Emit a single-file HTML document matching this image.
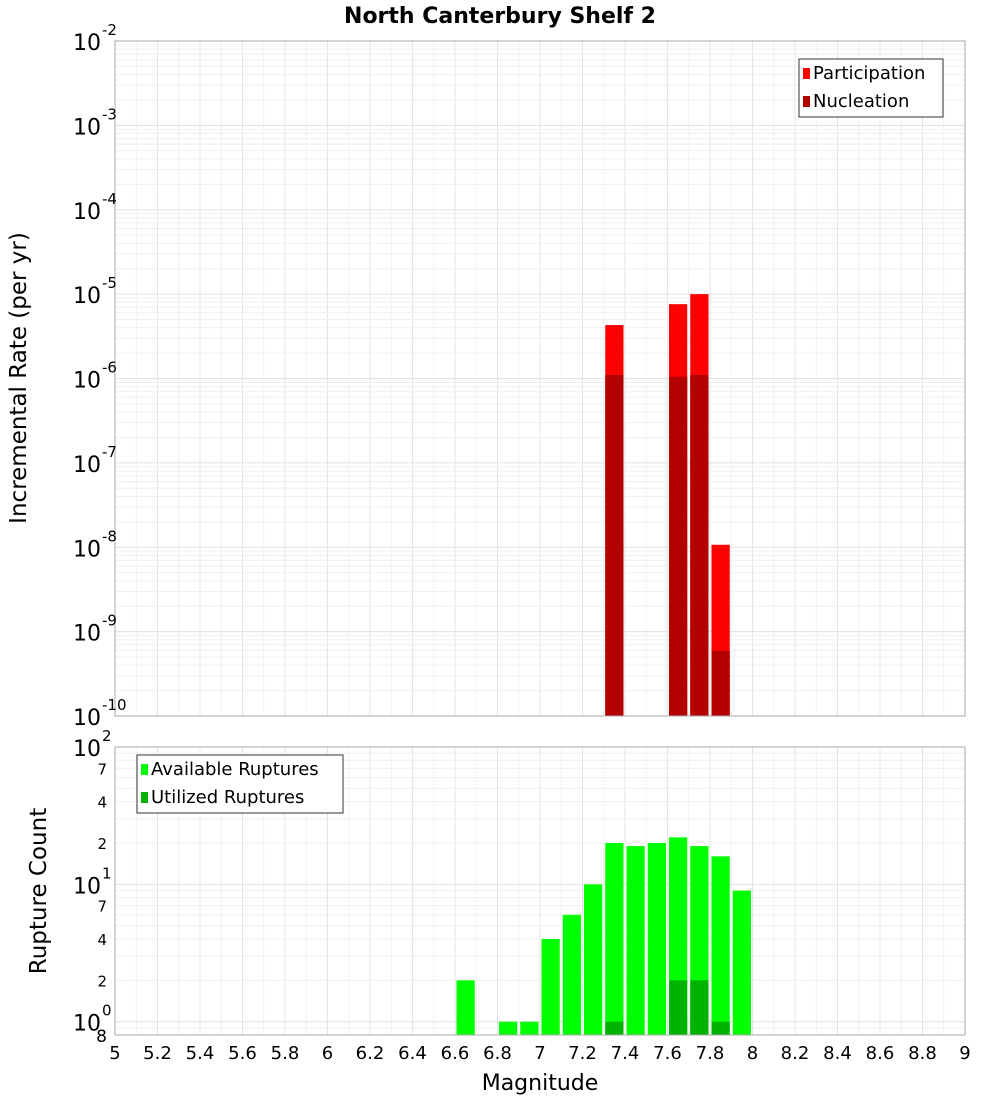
<!DOCTYPE html>
<html><head><meta charset="utf-8"><style>
body{margin:0;background:#fff;font-family:"Liberation Sans","DejaVu Sans",sans-serif}
svg text{font-family:"DejaVu Sans","Liberation Sans",sans-serif}
</style></head><body>
<svg id="c" width="1000" height="1100" xmlns="http://www.w3.org/2000/svg">
<text x="500" y="23" text-anchor="middle" font-size="22" font-weight="bold">North Canterbury Shelf 2</text>
</svg>
<script>
const topMags=[7.3,7.6,7.7,7.8];
const participation=[4.3e-6,7.6e-6,1.0e-5,1.07e-8];
const nucleation=[1.1e-6,1.05e-6,1.1e-6,5.9e-10];
const botMags=[6.6,6.8,6.9,7.0,7.1,7.2,7.3,7.4,7.5,7.6,7.7,7.8,7.9];
const available=[2,1,1,4,6,10,20,19,20,22,19,16,9];
const utilMags=[7.3,7.6,7.7,7.8];
const utilized=[1,2,2,1];
const xTicks=[5,5.2,5.4,5.6,5.8,6,6.2,6.4,6.6,6.8,7,7.2,7.4,7.6,7.8,8,8.2,8.4,8.6,8.8,9];
const topExps=[-2,-3,-4,-5,-6,-7,-8,-9,-10];
const botMinor=[2,4,7];

const svg=document.getElementById('c');const NS='http://www.w3.org/2000/svg';
function el(t,a,p){const e=document.createElementNS(NS,t);for(const k in a)e.setAttribute(k,a[k]);(p||svg).appendChild(e);return e;}
const X0=115,X1=965;
const xs=m=>X0+(m-5)/(9-5)*(X1-X0);
const T0=41,T1=716;
const yTop=v=>T0+(-2-Math.log10(v))/8*(T1-T0);
const B0=747,B1=1035,bMin=0.8,bMax=100;
const yBot=v=>B0+(Math.log10(bMax)-Math.log10(v))/(Math.log10(bMax)-Math.log10(bMin))*(B1-B0);

function grid(y0,y1,hl){
  for(let m=5;m<=9.001;m+=0.1){const g=el('line',{x1:xs(m),x2:xs(m),y1:y0,y2:y1,stroke:Math.abs(m*5-Math.round(m*5))<0.01?'#e4e4e4':'#f2f2f2','stroke-width':1});
  }
  hl.forEach(([y,major])=>{const g=el('line',{x1:X0,x2:X1,y1:y,y2:y,stroke:major?'#e0e0e0':'#efefef','stroke-width':1});
  });
}
let hl=[];for(let e=-10;e<-2;e++){for(let k=1;k<10;k++)hl.push([yTop(k*Math.pow(10,e)),k==1]);}
grid(T0,T1,hl);
hl=[];[0.8,0.9].forEach(v=>hl.push([yBot(v),false]));for(let e=0;e<2;e++)for(let k=1;k<10;k++)hl.push([yBot(k*Math.pow(10,e)),k==1]);
grid(B0,B1,hl);

function bar(m,v,yf,base,color,name){const x=xs(m)+1.5,w=xs(m+0.1)-xs(m)-3,y=yf(v);
  const r=el('rect',{x:x,y:y,width:w,height:base-y,fill:color});
  }
topMags.forEach((m,i)=>bar(m,participation[i],yTop,T1,'#ff0000','participation-bar'));
topMags.forEach((m,i)=>bar(m,nucleation[i],yTop,T1,'#b30000','nucleation-bar'));
botMags.forEach((m,i)=>bar(m,available[i],yBot,B1,'#00ff00','available-bar'));
utilMags.forEach((m,i)=>bar(m,utilized[i],yBot,B1,'#00b300','utilized-bar'));

el('rect',{x:X0,y:T0,width:X1-X0,height:T1-T0,fill:'none',stroke:'#aaa',});
el('rect',{x:X0,y:B0,width:X1-X0,height:B1-B0,fill:'none',stroke:'#aaa',});

topExps.forEach(e=>{const y=yTop(Math.pow(10,e));
  const t=el('text',{x:101,y:y+9,'text-anchor':'end','font-size':22});t.textContent='10';
  
  const s=el('text',{x:102,y:y-6,'font-size':15});s.textContent=String(e);
  });
[[100,'2'],[10,'1'],[1,'0']].forEach(([v,e])=>{const y=yBot(v);
  const t=el('text',{x:101,y:y+9,'text-anchor':'end','font-size':22});t.textContent='10';
  
  const s=el('text',{x:102,y:y-6,'font-size':15});s.textContent=e;
  });
[1,10].forEach(d=>botMinor.forEach(k=>{const y=yBot(k*d);
  const t=el('text',{x:107,y:y+6,'text-anchor':'end','font-size':15});t.textContent=String(k);
  }));
{const t=el('text',{x:107,y:yBot(0.8)+7,'text-anchor':'end','font-size':17});t.textContent='8';
}

xTicks.forEach(m=>{const t=el('text',{x:xs(m),y:1059,'text-anchor':'middle','font-size':18});
  t.textContent=String(Math.round(m*10)/10);});
el('text',{x:540,y:1090,'text-anchor':'middle','font-size':22,}).textContent='Magnitude';
el('text',{x:0,y:0,'text-anchor':'middle','font-size':23,transform:'translate(26,378) rotate(-90)',}).textContent='Incremental Rate (per yr)';
el('text',{x:0,y:0,'text-anchor':'middle','font-size':23,transform:'translate(46,891) rotate(-90)',}).textContent='Rupture Count';

function legend(x,y,w,items,name){const g=el('g',{});
  el('rect',{x:x,y:y,width:w,height:items.length*28+2,fill:'#fff',stroke:'#333'},g);
  items.forEach(([c,l],i)=>{el('rect',{x:x+4,y:y+9+i*28,width:7,height:11,fill:c},g);
    el('text',{x:x+14,y:y+20+i*28,'font-size':18},g).textContent=l;});}
legend(799,59,144,[['#ff0000','Participation'],['#b30000','Nucleation']],'top-legend');
legend(137,755,206,[['#00ff00','Available Ruptures'],['#00b300','Utilized Ruptures']],'bottom-legend');
</script>
</body></html>
